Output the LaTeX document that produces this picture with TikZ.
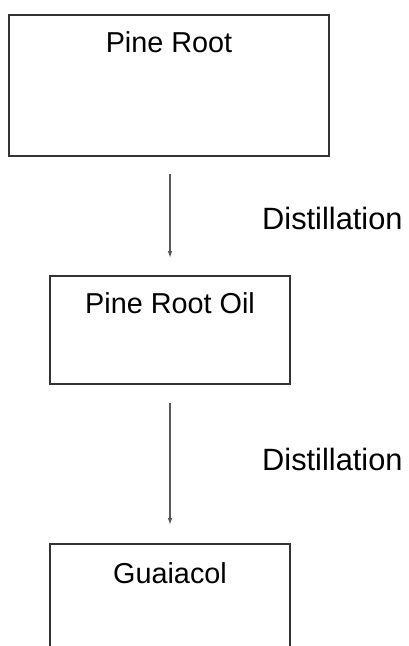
\documentclass[tikz,border=0pt]{standalone}
\usepackage{fontspec}
\setmainfont{Liberation Sans}
\usetikzlibrary{arrows.meta}

\tikzset{
  stage/.style={draw=black!80, line width=1.8pt, inner sep=0pt},
  flow/.style={draw=black!65, line width=1.2pt, -{Latex[length=7pt,width=4.5pt]}},
  lbl/.style={font=\fontsize{28.8}{34}\selectfont, inner sep=0pt},
  steplbl/.style={font=\fontsize{30.8}{36}\selectfont, inner sep=0pt}
}

\begin{document}
\begin{tikzpicture}[x=1pt,y=-1pt]
  \clip (0,0) rectangle (409,646);
  \fill[white] (0,0) rectangle (409,646);
  % boxes
  \node[stage, minimum width=320pt, minimum height=141pt] (root) at (169,85.5) {};
  \node[stage, minimum width=240.5pt, minimum height=108pt] (oil) at (170,330) {};
  \node[stage, minimum width=240pt, minimum height=156pt] (guaiacol) at (170,622) {};
  % box titles
  \node[lbl, anchor=base] (rootname) at (169,52) {Pine Root};
  \node[lbl, anchor=base] (oilname) at (170,313) {Pine Root Oil};
  \node[lbl, anchor=base] (guaiacolname) at (170,583) {Guaiacol};
  % steps
  \node[steplbl, anchor=base west] (step1) at (262,229) {Distillation};
  \node[steplbl, anchor=base west] (step2) at (262,470) {Distillation};
  \draw[flow, shorten <=17pt, shorten >=17pt] (root.south -| oil.north) -- (oil.north);
  \draw[flow, shorten <=18pt, shorten >=18pt] (oil.south) -- (guaiacol.north);
\end{tikzpicture}
\end{document}
